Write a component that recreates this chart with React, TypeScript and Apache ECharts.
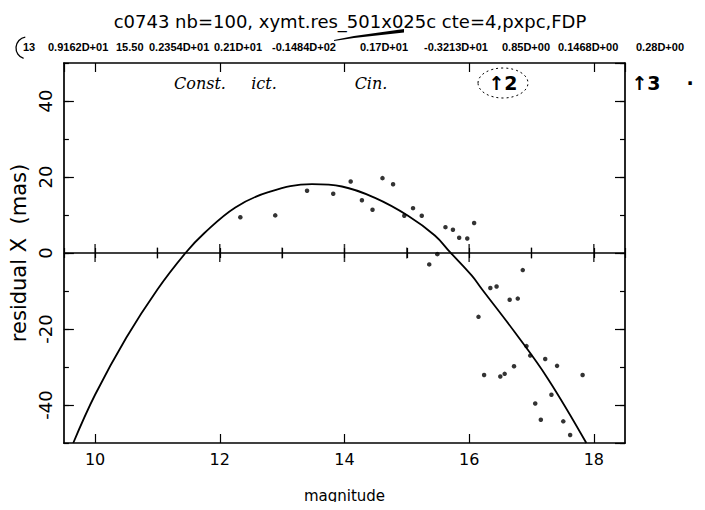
import { useEffect, useRef } from "react";
import * as echarts from "echarts";

// Plot header and solution line
const TITLE = "c0743 nb=100, xymt.res_501x025c cte=4,pxpc,FDP";
const HEADER_TOKENS = [
  "13", "0.9162D+01", "15.50", "0.2354D+01", "0.21D+01", "-0.1484D+02",
  "0.17D+01", "-0.3213D+01", "0.85D+00", "0.1468D+00", "0.28D+00",
];
const HEADER_X = [23, 48, 116, 149, 214, 272, 360, 424, 502, 558, 636];

// Handwritten notes on the plot
const NOTES = ["Const.", "ict.", "Cin.", "\u21912", "\u21913", "\u00b7"];
const NOTES_X = [200, 264, 371, 503, 646, 690];

// Axis ranges
const MAG_RANGE = [9.5, 18.5];
const RES_RANGE = [-50, 50];
const ZERO_TICKS = [10, 11, 12, 13, 14, 15, 16, 17, 18];

// Residuals per star: magnitude and residual X (mas)
const STAR_MAG = [
  12.33, 12.89, 13.4, 13.82, 14.1, 14.28, 14.45, 14.61, 14.78, 14.96,
  15.1, 15.24, 15.62, 15.74, 15.84, 15.97, 16.08, 15.36, 15.49, 16.86,
  16.34, 16.44, 16.65, 16.78, 16.15, 16.92, 16.98, 17.22, 17.41, 16.24,
  16.5, 16.57, 16.72, 17.82, 17.32, 17.06, 17.15, 17.51, 17.62,
];
const STAR_RES = [
  9.4, 9.9, 16.4, 15.6, 18.8, 13.9, 11.4, 19.7, 18.1, 9.8,
  11.8, 9.8, 6.8, 6.1, 4.0, 3.8, 7.9, -3.0, -0.3, -4.5,
  -9.2, -8.8, -12.3, -12.0, -16.8, -24.5, -27.0, -27.9, -29.7, -32.1,
  -32.5, -31.8, -29.8, -32.1, -37.3, -39.6, -43.9, -44.3, -47.9,
];

// Fitted curve
const FIT_MAG = [
  9.65, 10.0, 10.5, 11.0, 11.45, 11.75, 12.25, 12.78, 13.48, 13.96,
  14.49, 15.02, 15.45, 15.69, 16.04, 16.2, 16.73, 17.26, 17.88,
];
const FIT_RES = [
  -50, -37.3, -22.3, -9.6, 0, 5.2, 12.0, 16.0, 18.1, 17.5,
  14.5, 9.8, 4.6, 0.3, -5.9, -9.4, -20.8, -33.0, -50,
];

const FONT = '"DejaVu Sans", sans-serif';
const INK = "#000";

export default function App() {
  const ref = useRef<HTMLDivElement>(null);

  useEffect(() => {
    if (!ref.current) return;
    const chart = echarts.init(ref.current, undefined, { renderer: "svg" });

    const frameLine = { show: true, onZero: false, lineStyle: { color: INK, width: 1.7 } };
    const xBase = (position: string, splitNumber: number, tickLen: number, line: boolean) => ({
      type: "value",
      min: MAG_RANGE[0],
      max: MAG_RANGE[1],
      position,
      splitNumber,
      splitLine: { show: false },
      axisLine: line ? frameLine : { show: false },
      axisTick: { show: true, inside: true, length: tickLen, lineStyle: { color: INK, width: 1.2 } },
      axisLabel: { show: false },
    });
    const yBase = (position: string, splitNumber: number, tickLen: number, line: boolean) => ({
      type: "value",
      min: RES_RANGE[0],
      max: RES_RANGE[1],
      position,
      splitNumber,
      splitLine: { show: false },
      axisLine: line ? frameLine : { show: false },
      axisTick: { show: true, inside: true, length: tickLen, lineStyle: { color: INK, width: 1.2 } },
      axisLabel: { show: false },
    });

    const graphics: any[] = [
      {
        type: "text",
        style: {
          text: TITLE, x: 350, y: 21, align: "center", verticalAlign: "middle",
          font: '18px "DejaVu Sans", sans-serif', fill: INK,
        },
      },
      {
        type: "polygon",
        shape: { points: [[334, 40], [354, 36], [404, 29], [404, 32.5], [354, 38], [334, 41]] },
        style: { fill: INK },
      },
      ...HEADER_TOKENS.map((t, i) => ({
        type: "text",
        style: {
          text: t, x: HEADER_X[i], y: 47, align: "left", verticalAlign: "middle",
          font: 'bold 11px "Liberation Sans", Arial, sans-serif', fill: INK,
        },
      })),
      {
        type: "arc",
        shape: { cx: 27, cy: 48, r: 11, startAngle: Math.PI * 0.6, endAngle: Math.PI * 1.45 },
        style: { stroke: INK, lineWidth: 1.3, fill: "none" },
      },
      ...NOTES.map((t, i) => ({
        type: "text",
        style: {
          text: t, x: NOTES_X[i], y: 83, align: "center", verticalAlign: "middle",
          font: i >= 3 ? 'bold 19px "DejaVu Sans", sans-serif' : 'italic 16px "DejaVu Serif", serif',
          fill: INK,
        },
      })),
      {
        type: "ellipse",
        shape: { cx: 503, cy: 83, rx: 25, ry: 15 },
        style: { stroke: INK, lineWidth: 1, lineDash: [2, 3], fill: "none" },
      },
    ];

    chart.setOption({
      animation: false,
      backgroundColor: "#fff",
      grid: { left: 62, right: 80, top: 63, bottom: 67, containLabel: false },
      xAxis: [
        {
          ...xBase("bottom", 5, 9, true),
          axisLabel: {
            show: true, color: INK, fontFamily: FONT, fontSize: 16, margin: 8,
            showMinLabel: false, showMaxLabel: false,
          },
          name: "magnitude",
          nameLocation: "middle",
          nameGap: 45,
          nameTextStyle: { color: INK, fontFamily: FONT, fontSize: 15 },
        },
        xBase("bottom", 9, 5, false),
        xBase("top", 5, 9, true),
        xBase("top", 9, 5, false),
      ],
      yAxis: [
        {
          ...yBase("left", 5, 10, true),
          axisLabel: {
            show: true, color: INK, fontFamily: FONT, fontSize: 18, margin: 9, rotate: 90,
            showMinLabel: false, showMaxLabel: false,
          },
          name: "residual X  (mas)",
          nameLocation: "middle",
          nameGap: 33,
          nameTextStyle: { color: INK, fontFamily: FONT, fontSize: 21 },
        },
        yBase("left", 10, 5, false),
        yBase("right", 5, 10, true),
        yBase("right", 10, 5, false),
      ],
      series: [
        {
          type: "scatter",
          name: "zero",
          xAxisIndex: 0,
          yAxisIndex: 0,
          silent: true,
          data: ZERO_TICKS.map((m) => [m, 0]),
          symbol: "rect",
          symbolSize: (v: number[]) => (v[0] % 2 === 0 ? [1.5, 18] : [1.3, 11]),
          itemStyle: { color: INK },
          markLine: {
            silent: true,
            symbol: "none",
            label: { show: false },
            lineStyle: { color: INK, width: 1.5, type: "solid" },
            data: [{ yAxis: 0 }],
          },
          z: 3,
        },
        {
          type: "line",
          name: "fit",
          xAxisIndex: 0,
          yAxisIndex: 0,
          data: FIT_MAG.map((m, i) => [m, FIT_RES[i]]),
          smooth: 0.4,
          showSymbol: false,
          lineStyle: { color: INK, width: 1.8 },
          clip: true,
          z: 4,
        },
        {
          type: "scatter",
          name: "stars",
          xAxisIndex: 0,
          yAxisIndex: 0,
          data: STAR_MAG.map((m, i) => [m, STAR_RES[i]]),
          symbol: "circle",
          symbolSize: 4.5,
          itemStyle: { color: INK },
          z: 5,
        },
      ],
      graphic: graphics,
    });

    return () => chart.dispose();
  }, []);

  return <div ref={ref} style={{ width: 705, height: 510, margin: -8 }} />;
}
